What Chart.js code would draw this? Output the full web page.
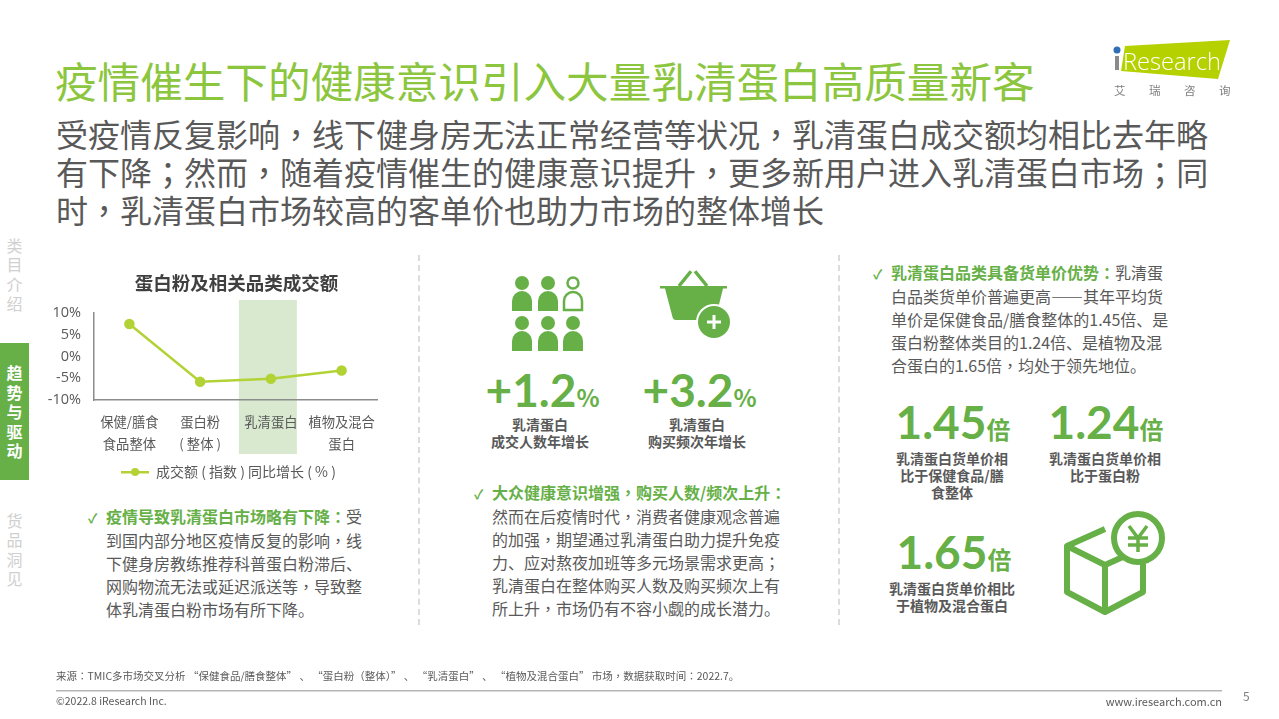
<!DOCTYPE html>
<html lang="zh">
<head>
<meta charset="utf-8">
<title>疫情催生下的健康意识引入大量乳清蛋白高质量新客</title>
<script src="https://cdn.jsdelivr.net/npm/chart.js@4"></script>
<style>
html, body { margin: 0; padding: 0; background: #fff; }
body { width: 1279px; height: 719px; position: relative; overflow: hidden; font-family: "Noto Sans CJK SC", sans-serif; color: #595959; }
.t { position: absolute; white-space: nowrap; }
.pt { font-family: "Noto Sans CJK TC", sans-serif; }
.body16 { font-size: 16px; line-height: 23px; color: #595959; }
.body16 i { display: inline-block; width: 18px; font-style: normal; font-size: 13px; font-weight: 700; color: #66b047; }
.body16 b { margin-left: 18px; font-weight: 400; }
.g { color: #66b047; font-weight: 700; }
.big { font-family: "Lato", "Noto Sans CJK SC", sans-serif; font-weight: 700; color: #66b047; text-align: center; line-height: 50px; }
.big small { font-size: 24px; font-family: "Noto Sans CJK SC", sans-serif; }
.cap { font-size: 14px; line-height: 17px; font-weight: 700; color: #595959; text-align: center; }
.side { font-size: 16px; line-height: 19.300px; width: 29px; text-align: center; color: #d0d0d0; white-space: normal; }
.dash { position: absolute; top: 255px; height: 370px; width: 0; border-left: 2px dashed #dcdcdc; }
canvas { position: absolute; }
svg { position: absolute; left: 0; top: 0; }
</style>
</head>
<body>

<div class="t" style="left:55px;top:50px;font-size:42.6px;line-height:60px;color:#8cc63f">疫情催生下的健康意识引入大量乳清蛋白高质量新客</div>
<div class="t" style="left:56px;top:114px;font-size:32px;line-height:38px;color:#595959">受疫情反复影响，线下健身房无法正常经营等状况，乳清蛋白成交额均相比去年略<br>有下降；然而，随着疫情催生的健康意识提升，更多新用户进入乳清蛋白市场；同<br>时，乳清蛋白市场较高的客单价也助力市场的整体增长</div>

<div class="t side" style="left:0;top:236px">类<br>目<br>介<br>绍</div>
<div style="position:absolute;left:0;top:343px;width:29px;height:137px;background:#66b047"></div>
<div class="t side" style="left:0;top:363px;color:#fff;font-weight:700;line-height:19.600px">趋<br>势<br>与<br>驱<br>动</div>
<div class="t side" style="left:0;top:511px">货<br>品<br>洞<br>见</div>

<div class="dash" style="left:418px"></div>
<div class="dash" style="left:838px"></div>

<canvas id="grafico" width="394" height="225" style="left:40px;top:265px"></canvas>

<div class="t body16" style="left:88px;top:505px"><i>✓</i><span class="g">疫情导致乳清蛋白市场略有下降：</span>受<br><b>到国内部分地区疫情反复的影响，线</b><br><b>下健身房教练推荐科普蛋白粉滞后、</b><br><b>网购物流无法或延迟派送等，导致整</b><br><b>体乳清蛋白粉市场有所下降。</b></div>

<div class="t big" style="left:470px;top:365px;width:145px;font-size:46px">+1.2<small>%</small></div>
<div class="t big" style="left:627px;top:365px;width:145px;font-size:46px">+3.2<small>%</small></div>
<div class="t cap" style="left:470px;top:415.500px;width:140px">乳清蛋白<br>成交人数年增长</div>
<div class="t cap" style="left:627px;top:415.500px;width:140px">乳清蛋白<br>购买频次年增长</div>

<div class="t body16" style="left:474px;top:481px"><i>✓</i><span class="g">大众健康意识增强，购买人数/频次上升：</span><br><b>然而在后疫情时代，消费者健康观念普遍</b><br><b>的加强，期望通过乳清蛋白助力提升免疫</b><br><b>力、应对熬夜加班等多元场景需求更高；</b><br><b>乳清蛋白在整体购买人数及购买频次上有</b><br><b>所上升，市场仍有不容小觑的成长潜力。</b></div>

<div class="t body16" style="left:873px;top:261px"><i>✓</i><span class="g">乳清蛋白品类具备货单价优势：</span>乳清蛋<br><b>白品类货单价普遍更高——其年平均货</b><br><b>单价是保健食品/膳食整体的1.45倍、是</b><br><b>蛋白粉整体类目的1.24倍、是植物及混</b><br><b>合蛋白的1.65倍，均处于领先地位。</b></div>

<div class="t big" style="left:883px;top:397px;width:140px;font-size:46px">1.45<small>倍</small></div>
<div class="t big" style="left:1036px;top:397px;width:140px;font-size:46px">1.24<small>倍</small></div>
<div class="t big" style="left:884px;top:527px;width:140px;font-size:46px">1.65<small>倍</small></div>
<div class="t cap" style="left:884px;top:449.500px;width:136px">乳清蛋白货单价相<br>比于保健食品/膳<br>食整体</div>
<div class="t cap" style="left:1037px;top:449.500px;width:136px">乳清蛋白货单价相<br>比于蛋白粉</div>
<div class="t cap" style="left:884px;top:580px;width:136px">乳清蛋白货单价相比<br>于植物及混合蛋白</div>

<svg width="1279" height="719" fill="#66b047">
  <g id="p"><circle cx="522" cy="283" r="7"/><path d="M512 311v-10a10 10 0 0 1 20 0v10z"/></g>
  <use href="#p" x="26"/>
  <circle cx="573" cy="283" r="5.500" fill="none" stroke="#66b047" stroke-width="2.500"/>
  <path d="M564 310v-9a9 9 0 0 1 18 0v9z" fill="none" stroke="#66b047" stroke-width="2.500"/>
  <use href="#p" y="40"/><use href="#p" x="26" y="40"/><use href="#p" x="51" y="40"/>

  <path d="M660 286h67v2.500h-4l-5 20-10 11.500h-32q-3 0-3.500-3L665 288.500h-5z"/>
  <path d="M679 286l13-16M707 286l-13-16" stroke="#66b047" stroke-width="3.500" fill="none" stroke-dasharray="19 3"/>
  <circle cx="714" cy="322" r="18" fill="#fff"/>
  <circle cx="714" cy="322" r="16"/>
  <path d="M714 315v14M707 322h14" stroke="#fff" stroke-width="3"/>

  <g fill="none" stroke="#66b047" stroke-width="6" stroke-linejoin="round">
    <path d="M1105 529l-38 17v46l38 20 38-20v-28"/>
    <path d="M1067 546l38 19v47M1105 565l20-9"/>
    <circle cx="1138" cy="538" r="24" fill="#fff"/>
  </g>
  <path d="M1129 526l9 12 9-12M1128 538h20M1128 545h20M1138 538v14" fill="none" stroke="#66b047" stroke-width="3.500"/>

  <path d="M1125 46L1230 40 1218 79 1121 71z" fill="#b5d100"/>
  <circle cx="1117" cy="50" r="3.500" fill="#2f6fb5"/>
  <rect x="1115" y="56" width="4" height="14" fill="#8a8a8a"/>
  <text x="1123" y="70" font-family="Open Sans" font-weight="300" font-size="23" textLength="98" lengthAdjust="spacingAndGlyphs" fill="#fff">Research</text>
  <rect x="56" y="690" width="1166" height="1.500" fill="#b5b5b5"/>
</svg>
<div class="t" style="left:1114px;top:83px;font-size:11.500px;line-height:14px;color:#7f7f7f;letter-spacing:23.500px">艾瑞咨询</div>

<div class="t" style="left:56px;top:669px;font-size:10.500px;line-height:14px;color:#595959">来源：TMIC多市场交叉分析 “保健食品/膳食整体” 、 “蛋白粉（整体）” 、 “乳清蛋白” 、 “植物及混合蛋白” 市场，数据获取时间：2022.7。</div>
<div class="t" style="left:56px;top:694px;font-size:10.500px;line-height:14px;color:#595959">©2022.8 iResearch Inc.</div>
<div class="t" style="right:57px;top:694px;font-size:11px;line-height:14px;color:#595959">www.iresearch.com.cn</div>
<div class="t" style="left:1243px;top:688px;font-size:12px;line-height:16px;color:#7f7f7f">5</div>

<script>
const categorias = [["保健/膳食", "食品整体"], ["蛋白粉", "( 整体 )"], "乳清蛋白", ["植物及混合", "蛋白"]];
const valores = [7.5, -5.8, -5.1, -3.2];
const tituloGrafico = "蛋白粉及相关品类成交额";
const nomeSerie = "成交额 ( 指数 ) 同比增长 ( % )";
const corLinha = "#b2d235";

// pontuacao centrada como no original
for (const el of document.querySelectorAll(".t")) {
    el.innerHTML = el.innerHTML.replace(/[，；：（）]/g, '<span class="pt" lang="zh-TW">$&</span>');
}

// simbolo da legenda: linha com o ponto no meio
const simbolo = document.createElement("canvas");
simbolo.width = 28;
simbolo.height = 10;
const sctx = simbolo.getContext("2d");
sctx.fillStyle = corLinha;
sctx.fillRect(0, 4, 28, 2.5);
sctx.beginPath();
sctx.arc(14, 5, 4, 0, Math.PI * 2);
sctx.fill();

// faixa verde atras do "乳清蛋白"
const faixa = {
    id: "faixa",
    beforeDraw(chart) {
        const x = chart.scales.x.getPixelForValue(2);
        chart.ctx.save();
        chart.ctx.fillStyle = "#d9e9d0";
        chart.ctx.fillRect(x - 32, 35, 58, 154);
        chart.ctx.restore();
    }
};

// titulo e legenda nao ficam no centro da area do grafico
const ajustaCaixas = {
    id: "ajustaCaixas",
    afterLayout(chart) {
        chart.titleBlock.left += 28;
        chart.titleBlock.right += 28;
        chart.legend.left += 20;
        chart.legend.right += 20;
    }
};

const fonte = "'Noto Sans CJK SC', sans-serif";

new Chart(document.getElementById("grafico").getContext("2d"), {
    type: "line",
    data: {
        labels: categorias,
        datasets: [{
            label: nomeSerie,
            data: valores,
            borderColor: corLinha,
            backgroundColor: corLinha,
            borderWidth: 2.5,
            pointRadius: 4,
            pointHoverRadius: 4,
            tension: 0
        }]
    },
    options: {
        responsive: false,
        animation: false,
        devicePixelRatio: 1,
        layout: { padding: { right: 57, bottom: 1 } },
        plugins: {
            title: {
                display: true,
                text: tituloGrafico,
                color: "#404040",
                font: { family: fonte, size: 18.5, weight: "bold" },
                padding: { top: 7, bottom: 19 }
            },
            legend: {
                position: "bottom",
                labels: {
                    usePointStyle: true,
                    pointStyle: simbolo,
                    pointStyleWidth: 28,
                    color: "#595959",
                    font: { family: fonte, size: 14 },
                    padding: 0
                }
            },
            tooltip: { enabled: false }
        },
        scales: {
            x: {
                offset: true,
                grid: { display: false },
                border: { color: "#8c8c8c", width: 1.5 },
                ticks: {
                    color: "#595959",
                    font: { family: fonte, size: 13.3, lineHeight: 1.65 },
                    autoSkip: false,
                    maxRotation: 0,
                    padding: 3
                },
                afterFit(scale) { scale.height = 65; }
            },
            y: {
                min: -10,
                max: 10,
                grid: { display: false },
                border: { color: "#8c8c8c", width: 1.5 },
                ticks: {
                    stepSize: 5,
                    color: "#595959",
                    font: { family: "'Open Sans', sans-serif", size: 14.5 },
                    padding: 5,
                    callback: v => v + "%"
                },
                afterFit(scale) { scale.width = 54; }
            }
        }
    },
    plugins: [faixa, ajustaCaixas]
});
</script>
</body>
</html>
